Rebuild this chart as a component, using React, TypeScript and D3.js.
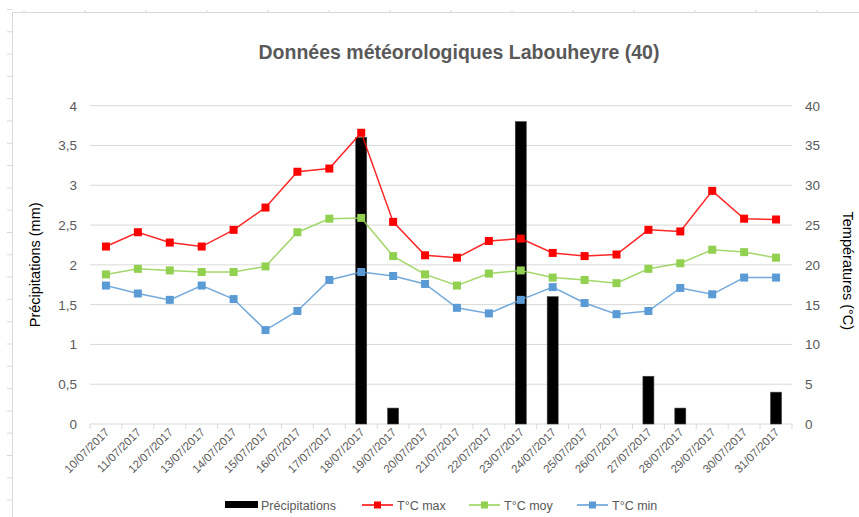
import React, { useRef, useEffect } from "react";
import * as d3 from "d3";

const dates = [
  "10/07/2017", "11/07/2017", "12/07/2017", "13/07/2017", "14/07/2017", "15/07/2017",
  "16/07/2017", "17/07/2017", "18/07/2017", "19/07/2017", "20/07/2017", "21/07/2017",
  "22/07/2017", "23/07/2017", "24/07/2017", "25/07/2017", "26/07/2017", "27/07/2017",
  "28/07/2017", "29/07/2017", "30/07/2017", "31/07/2017",
];
const precip = [0, 0, 0, 0, 0, 0, 0, 0, 3.6, 0.2, 0, 0, 0, 3.8, 1.6, 0, 0, 0.6, 0.2, 0, 0, 0.4];
const tMax = [22.3, 24.1, 22.8, 22.3, 24.4, 27.2, 31.7, 32.1, 36.6, 25.4, 21.2, 20.9, 23.0, 23.3, 21.5, 21.1, 21.3, 24.4, 24.2, 29.3, 25.8, 25.7];
const tMoy = [18.8, 19.5, 19.3, 19.1, 19.1, 19.8, 24.1, 25.8, 25.9, 21.1, 18.8, 17.4, 18.9, 19.3, 18.4, 18.1, 17.7, 19.5, 20.2, 21.9, 21.6, 20.9];
const tMin = [17.4, 16.4, 15.6, 17.4, 15.7, 11.8, 14.2, 18.1, 19.1, 18.6, 17.6, 14.6, 13.9, 15.6, 17.2, 15.2, 13.8, 14.2, 17.1, 16.3, 18.4, 18.4];
const leftTicks = [0, 0.5, 1, 1.5, 2, 2.5, 3, 3.5, 4];
const rightTicks = [0, 5, 10, 15, 20, 25, 30, 35, 40];

const series = [
  { name: "T°C max", values: tMax, color: "#FF0000" },
  { name: "T°C moy", values: tMoy, color: "#92D050" },
  { name: "T°C min", values: tMin, color: "#5B9BD5" },
];

const W = 859;
const H = 517;
const FONT = "'Liberation Sans', Arial, sans-serif";

const App = () => {
  const ref = useRef<SVGSVGElement>(null);

  useEffect(() => {
    const svg = d3.select(ref.current);
    svg.selectAll("*").remove();

    const margin = { top: 105.7, right: 67, bottom: 93, left: 90 };

    const x = d3
      .scaleBand()
      .domain(dates)
      .range([margin.left, W - margin.right]);
    const yL = d3.scaleLinear().domain([0, 4]).range([H - margin.bottom, margin.top]);
    const yR = d3.scaleLinear().domain([0, 40]).range([H - margin.bottom, margin.top]);

    // spreadsheet frame
    const frame = svg.append("g").attr("stroke", "#d9d9d9").attr("fill", "none");
    frame.append("line").attr("x1", 12.5).attr("x2", W).attr("y1", 12.5).attr("y2", 12.5);
    frame.append("line").attr("x1", 12.5).attr("x2", 12.5).attr("y1", 12.5).attr("y2", H);
    d3.range(9.5, H, 22.3).forEach((yy) => {
      frame.append("line").attr("x1", 7).attr("x2", 12.5).attr("y1", yy).attr("y2", yy);
    });
    d3.range(24, W, 61).forEach((xx) => {
      frame.append("line").attr("x1", xx).attr("x2", xx).attr("y1", 10).attr("y2", 12.5);
    });

    // title
    svg
      .append("text")
      .attr("x", 459)
      .attr("y", 59)
      .attr("text-anchor", "middle")
      .attr("font-family", FONT)
      .attr("font-size", 19.5)
      .attr("font-weight", "bold")
      .attr("fill", "#595959")
      .text("Données météorologiques Labouheyre (40)");

    // gridlines
    svg
      .append("g")
      .selectAll("line")
      .data(leftTicks.slice(1))
      .join("line")
      .attr("x1", margin.left)
      .attr("x2", W - margin.right)
      .attr("y1", (d) => yL(d))
      .attr("y2", (d) => yL(d))
      .attr("stroke", "#d9d9d9");

    // left axis labels
    svg
      .append("g")
      .selectAll("text")
      .data(leftTicks)
      .join("text")
      .attr("x", 77)
      .attr("y", (d) => yL(d) + 5)
      .attr("text-anchor", "end")
      .attr("font-family", FONT)
      .attr("font-size", 13.5)
      .attr("fill", "#595959")
      .text((d) => String(d).replace(".", ","));

    // right axis labels
    svg
      .append("g")
      .selectAll("text")
      .data(rightTicks)
      .join("text")
      .attr("x", 805)
      .attr("y", (d) => yR(d) + 5)
      .attr("text-anchor", "start")
      .attr("font-family", FONT)
      .attr("font-size", 13.5)
      .attr("fill", "#595959")
      .text((d) => d);

    // axis titles
    svg
      .append("text")
      .attr("transform", `translate(40,${(yL(0) + yL(4)) / 2}) rotate(-90)`)
      .attr("text-anchor", "middle")
      .attr("font-family", FONT)
      .attr("font-size", 14.5)
      .attr("fill", "#000")
      .text("Précipitations (mm)");
    svg
      .append("text")
      .attr("transform", `translate(843,${(yL(0) + yL(4)) / 2 + 6}) rotate(90)`)
      .attr("text-anchor", "middle")
      .attr("font-family", FONT)
      .attr("font-size", 14.5)
      .attr("fill", "#000")
      .text("Températures (°C)");

    // x axis
    const y0 = yL(0);
    svg
      .append("line")
      .attr("x1", margin.left)
      .attr("x2", W - margin.right)
      .attr("y1", y0)
      .attr("y2", y0)
      .attr("stroke", "#d9d9d9");
    svg
      .append("g")
      .selectAll("line")
      .data([...dates.map((d) => x(d)!), W - margin.right])
      .join("line")
      .attr("x1", (d) => d)
      .attr("x2", (d) => d)
      .attr("y1", y0)
      .attr("y2", y0 + 5)
      .attr("stroke", "#d9d9d9");
    svg
      .append("g")
      .selectAll("text")
      .data(dates)
      .join("text")
      .attr("transform", (d) => `translate(${x(d)! + x.bandwidth() / 2 + 4},${y0 + 9}) rotate(-45)`)
      .attr("text-anchor", "end")
      .attr("font-family", FONT)
      .attr("font-size", 11.5)
      .attr("fill", "#595959")
      .text((d) => d);

    // bars
    const bw = 11;
    svg
      .append("g")
      .selectAll("rect")
      .data(precip.map((v, i) => ({ v, d: dates[i] })).filter((p) => p.v > 0))
      .join("rect")
      .attr("x", (p) => x(p.d)! + x.bandwidth() / 2 - bw / 2)
      .attr("y", (p) => yL(p.v))
      .attr("width", bw)
      .attr("height", (p) => y0 - yL(p.v))
      .attr("fill", "#000")
      .attr("stroke", "#404040")
      .attr("stroke-width", 0.6);

    // lines
    const cx = (i: number) => x(dates[i])! + x.bandwidth() / 2;
    const line = d3
      .line<number>()
      .x((_, i) => cx(i))
      .y((v) => yR(v));
    series.forEach((s) => {
      svg
        .append("path")
        .attr("d", line(s.values))
        .attr("fill", "none")
        .attr("stroke", s.color)
        .attr("stroke-width", 1.5)
        .attr("stroke-opacity", 0.85);
      svg
        .append("g")
        .selectAll("rect")
        .data(s.values)
        .join("rect")
        .attr("x", (_, i) => cx(i) - 4)
        .attr("y", (v) => yR(v) - 4)
        .attr("width", 8)
        .attr("height", 8)
        .attr("fill", s.color);
    });

    // legend
    const ly = 505;
    const lg = svg.append("g").attr("font-family", FONT).attr("font-size", 12.5).attr("fill", "#595959");
    lg.append("rect").attr("x", 225).attr("y", ly - 4).attr("width", 33).attr("height", 7).attr("fill", "#000");
    lg.append("text").attr("x", 261).attr("y", ly + 4.5).text("Précipitations");
    const legX = [362, 469, 577];
    series.forEach((s, i) => {
      const lx = legX[i];
      lg.append("line")
        .attr("x1", lx)
        .attr("x2", lx + 31)
        .attr("y1", ly)
        .attr("y2", ly)
        .attr("stroke", s.color)
        .attr("stroke-width", 1.5);
      lg.append("rect").attr("x", lx + 12).attr("y", ly - 3.5).attr("width", 7).attr("height", 7).attr("fill", s.color);
      lg.append("text").attr("x", lx + 35).attr("y", ly + 4.5).text(s.name);
    });
  }, []);

  return (
    <svg
      ref={ref}
      width={W}
      height={H}
      style={{ position: "absolute", left: 0, top: 0, background: "#fff" }}
    />
  );
};

export default App;
